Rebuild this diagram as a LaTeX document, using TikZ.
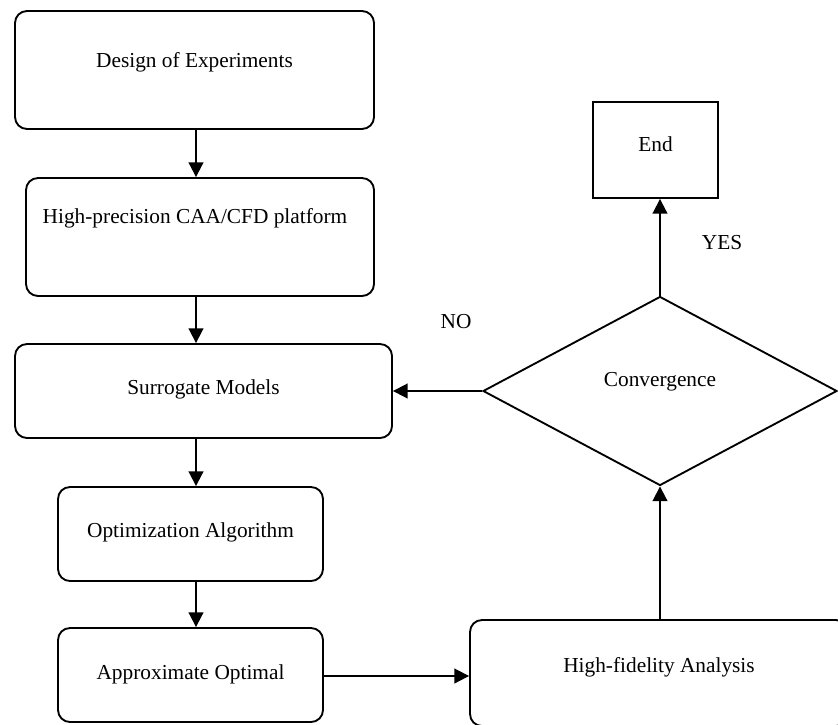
\documentclass[tikz,border=0pt]{standalone}
\usepackage{fontspec}
\setmainfont{Liberation Serif}
\usetikzlibrary{arrows.meta,shapes.geometric}
\def\px{0.75pt}
\tikzset{
  every node/.style={font=\fontsize{16pt}{19pt}\selectfont},
  rbox/.style={draw, line width=1.4pt, rounded corners=9pt, inner sep=0pt},
  sbox/.style={draw, line width=1.4pt, inner sep=0pt},
  dia/.style={draw, line width=1.4pt, diamond, inner sep=0pt},
  arr/.style={line width=1.4pt, -{Triangle[length=11pt,width=11pt]}},
  lbl/.style={inner sep=0pt}
}
\begin{document}
\begin{tikzpicture}[x=0.75pt,y=-0.75pt]
\clip (0,0) rectangle (838,724);
\coordinate (ax) at (196,0);
\node[rbox, minimum width=359*\px, minimum height=118*\px,
  label={[lbl,yshift=8*\px]center:Design of Experiments}] (doe) at (194.5,70) {};
\node[rbox, minimum width=348*\px, minimum height=118*\px,
  label={[lbl,yshift=19*\px,xshift=-5*\px]center:High-precision CAA/CFD platform}] (hp) at (200,237) {};
\node[rbox, minimum width=377*\px, minimum height=94*\px,
  label={[lbl,yshift=2*\px]center:Surrogate Models}] (sm) at (203.5,391) {};
\node[rbox, minimum width=265*\px, minimum height=94*\px,
  label={[lbl,yshift=2*\px]center:Optimization Algorithm}] (oa) at (190.5,534) {};
\node[rbox, minimum width=265*\px, minimum height=94*\px,
  label={[lbl,yshift=1*\px]center:Approximate Optimal}] (ao) at (190.5,675) {};
\node[rbox, minimum width=378*\px, minimum height=106*\px,
  label={[lbl,yshift=6*\px]center:High-fidelity Analysis}] (hf) at (659,673) {};
\node[sbox, minimum width=125*\px, minimum height=96*\px,
  label={[lbl,yshift=6*\px]center:End}] (end) at (655.5,150) {};
\node[dia, minimum width=354*\px, minimum height=189*\px,
  label={[lbl,yshift=9*\px]center:Convergence}] (conv) at (660,391) {};
\node[lbl] (no) at (456,322) {NO};
\node[lbl] (yes) at (722,243) {YES};
\draw[arr] (doe.south -| ax) -- (hp.north -| ax);
\draw[arr] (hp.south -| ax) -- (sm.north -| ax);
\draw[arr] (sm.south -| ax) -- (oa.north -| ax);
\draw[arr] (oa.south -| ax) -- (ao.north -| ax);
\draw[arr] (ao.east |- 0,676) -- (hf.west |- 0,676);
\draw[arr] (hf.north -| conv.south) -- (conv.south);
\draw[arr] (conv.north) -- (conv.north |- end.south);
\draw[arr] (conv.west) -- (sm.east |- conv.west);
\end{tikzpicture}
\end{document}
